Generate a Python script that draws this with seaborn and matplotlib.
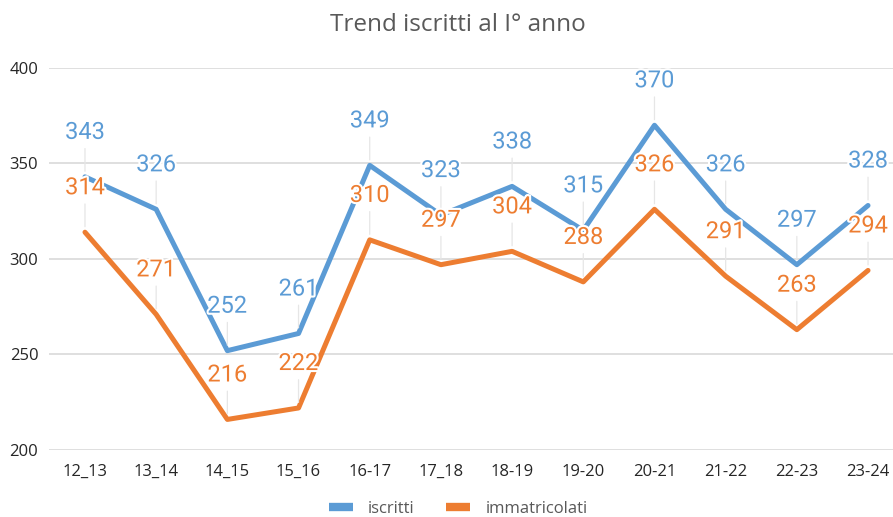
import pandas as pd
import matplotlib
matplotlib.use('Agg')
import matplotlib.pyplot as plt
import matplotlib.patheffects as pe
from matplotlib.lines import Line2D
import seaborn as sns

anni = ['12_13', '13_14', '14_15', '15_16', '16-17', '17_18',
        '18-19', '19-20', '20-21', '21-22', '22-23', '23-24']
iscritti = [343, 326, 252, 261, 349, 323, 338, 315, 370, 326, 297, 328]
immatricolati = [314, 271, 216, 222, 310, 297, 304, 288, 326, 291, 263, 294]
serie = ['iscritti', 'immatricolati']
colori = {'iscritti': '#5B9BD5', 'immatricolati': '#ED7D31'}

df = pd.DataFrame({
    'anno': anni * 2,
    'valore': iscritti + immatricolati,
    'serie': ['iscritti'] * len(anni) + ['immatricolati'] * len(anni),
})

sns.set_style('white')
plt.rcParams['font.family'] = ['Open Sans', 'DejaVu Sans']

fig = plt.figure(figsize=(8.93, 5.17), dpi=100)
ax = fig.add_axes([0.0553, 0.1296, 0.9566, 0.739])

sns.lineplot(data=df, x='anno', y='valore', hue='serie', palette=colori,
             sort=False, linewidth=3.6, legend=False, ax=ax, zorder=3)

ax.set_xlim(-0.5, len(anni) - 0.5)
ax.set_ylim(200, 400)
ax.set_yticks([200, 250, 300, 350, 400])
ax.grid(axis='y', color='#D9D9D9', linewidth=1.2)
ax.grid(axis='x', visible=False)
sns.despine(ax=ax, left=True, bottom=True)
ax.tick_params(axis='both', length=0, labelsize=12, colors='#262626')
ax.tick_params(axis='x', pad=10)
ax.tick_params(axis='y', pad=8)
ax.set_xlabel('')
ax.set_ylabel('')

# etichette dati con linee guida
for nome, valori in [('iscritti', iscritti), ('immatricolati', immatricolati)]:
    for i, v in enumerate(valori):
        ax.annotate(str(v), xy=(i, v), xytext=(0, 32), textcoords='offset points',
                    ha='center', va='center', fontsize=17, family='Roboto',
                    color=colori[nome], zorder=5,
                    path_effects=[pe.withStroke(linewidth=3, foreground='white')],
                    arrowprops=dict(arrowstyle='-', color='#E6E6E6', lw=0.9,
                                    shrinkA=1, shrinkB=4, zorder=1))

fig.text(0.513, 0.952, 'Trend iscritti al I° anno', ha='center', va='center',
         fontsize=17.5, color='#595959')

handles = [Line2D([0], [0], color=colori[s], lw=6, solid_capstyle='butt') for s in serie]
fig.legend(handles, serie, loc='center', bbox_to_anchor=(0.513, 0.0155),
           ncol=2, frameon=False, fontsize=12, labelcolor='#595959',
           handlelength=1.45, columnspacing=1.9, handletextpad=0.9)

fig.savefig('out.png', dpi=100)
